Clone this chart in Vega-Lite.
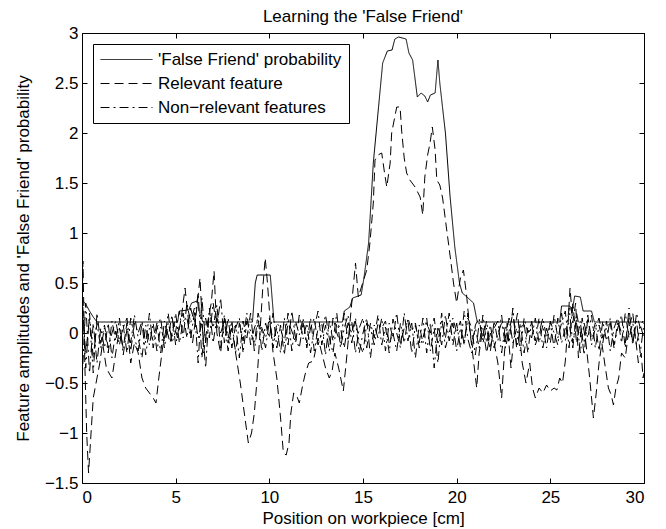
{
"$schema": "https://vega.github.io/schema/vega-lite/v6.json",
"width": 562, "height": 450,
"autosize": {"type": "none"},
"padding": {"left": 82, "top": 33, "right": 22, "bottom": 46},
"background": "white",
"title": {"text": "Learning the 'False Friend'", "fontSize": 17, "fontWeight": "normal", "font": "Liberation Sans", "offset": -2, "anchor": "middle", "color": "black"},
"config": {
  "font": "Liberation Sans",
  "view": {"stroke": "black", "strokeWidth": 1},
  "axis": {"grid": false, "domain": false, "tickColor": "black", "tickSize": -5, "labelColor": "black", "labelFontSize": 17, "labelFont": "Liberation Sans", "titleFont": "Liberation Sans", "titleFontSize": 17, "titleFontWeight": "normal", "titleColor": "black"}
},
"datasets": {
"ff": [
{"x":0,"y":0.33},{"x":0.2,"y":0.29},{"x":0.4,"y":0.22},{"x":0.6,"y":0.16},{"x":0.8,"y":0.11},{"x":5.1,"y":0.11},{"x":5.2,"y":0.22},{"x":5.7,"y":0.23},{"x":5.85,"y":0.3},{"x":6.15,"y":0.32},{"x":6.25,"y":0.22},{"x":6.45,"y":0.11},{"x":9.1,"y":0.11},{"x":9.25,"y":0.5},{"x":9.35,"y":0.58},{"x":10.05,"y":0.58},{"x":10.25,"y":0.11},{"x":13.9,"y":0.11},{"x":14.0,"y":0.22},{"x":14.3,"y":0.26},{"x":14.45,"y":0.35},{"x":14.9,"y":0.38},{"x":15.05,"y":0.55},{"x":15.3,"y":0.9},{"x":15.55,"y":1.7},{"x":15.8,"y":2.2},{"x":16.05,"y":2.7},{"x":16.3,"y":2.82},{"x":16.55,"y":2.83},{"x":16.7,"y":2.94},{"x":16.9,"y":2.96},{"x":17.3,"y":2.94},{"x":17.45,"y":2.8},{"x":17.65,"y":2.73},{"x":17.9,"y":2.36},{"x":18.1,"y":2.4},{"x":18.3,"y":2.37},{"x":18.45,"y":2.31},{"x":18.6,"y":2.38},{"x":18.85,"y":2.4},{"x":19.0,"y":2.73},{"x":19.1,"y":2.5},{"x":19.4,"y":2.0},{"x":19.65,"y":1.36},{"x":19.9,"y":0.86},{"x":20.15,"y":0.5},{"x":20.3,"y":0.4},{"x":20.55,"y":0.36},{"x":20.9,"y":0.3},{"x":21.1,"y":0.11},{"x":25.5,"y":0.11},{"x":25.6,"y":0.27},{"x":26.05,"y":0.27},{"x":26.15,"y":0.2},{"x":26.3,"y":0.37},{"x":26.6,"y":0.36},{"x":26.75,"y":0.22},{"x":27.2,"y":0.22},{"x":27.35,"y":0.11},{"x":30,"y":0.11}
],
"rel": [
{"x":0,"y":0.1},{"x":0.05,"y":0.72},{"x":0.15,"y":-0.3},{"x":0.25,"y":-1.0},{"x":0.35,"y":-1.4},{"x":0.45,"y":-1.1},{"x":0.6,"y":-0.65},{"x":0.8,"y":-0.45},{"x":0.95,"y":-0.3},{"x":1.1,"y":-0.1},{"x":1.3,"y":-0.35},{"x":1.5,"y":-0.42},{"x":1.6,"y":-0.45},{"x":1.8,"y":-0.2},{"x":2.0,"y":0.05},{"x":2.2,"y":-0.15},{"x":2.4,"y":0.1},{"x":2.6,"y":-0.3},{"x":2.8,"y":-0.1},{"x":3.0,"y":-0.2},{"x":3.2,"y":-0.45},{"x":3.4,"y":-0.55},{"x":3.6,"y":-0.6},{"x":3.8,"y":-0.65},{"x":3.95,"y":-0.7},{"x":4.1,"y":-0.45},{"x":4.3,"y":-0.15},{"x":4.5,"y":0.05},{"x":4.7,"y":-0.1},{"x":4.9,"y":0.1},{"x":5.1,"y":-0.05},{"x":5.3,"y":0.15},{"x":5.5,"y":0.45},{"x":5.7,"y":0.1},{"x":5.9,"y":-0.1},{"x":6.1,"y":0.2},{"x":6.3,"y":0.55},{"x":6.5,"y":-0.2},{"x":6.7,"y":0.1},{"x":6.9,"y":0.3},{"x":7.05,"y":0.62},{"x":7.2,"y":0.0},{"x":7.4,"y":-0.2},{"x":7.6,"y":0.15},{"x":7.8,"y":-0.1},{"x":8.0,"y":0.05},{"x":8.2,"y":-0.2},{"x":8.45,"y":-0.5},{"x":8.7,"y":-0.85},{"x":8.88,"y":-1.1},{"x":9.05,"y":-1.0},{"x":9.2,"y":-0.8},{"x":9.35,"y":-0.45},{"x":9.5,"y":0.0},{"x":9.65,"y":0.45},{"x":9.78,"y":0.75},{"x":9.9,"y":0.5},{"x":10.05,"y":0.1},{"x":10.2,"y":-0.2},{"x":10.4,"y":-0.45},{"x":10.6,"y":-0.85},{"x":10.75,"y":-1.2},{"x":10.9,"y":-1.22},{"x":11.05,"y":-1.1},{"x":11.15,"y":-0.8},{"x":11.3,"y":-0.6},{"x":11.45,"y":-0.62},{"x":11.6,"y":-0.7},{"x":11.75,"y":-0.55},{"x":11.9,"y":-0.42},{"x":12.1,"y":-0.3},{"x":12.35,"y":-0.28},{"x":12.6,"y":-0.05},{"x":12.8,"y":-0.2},{"x":13.0,"y":-0.35},{"x":13.2,"y":-0.45},{"x":13.35,"y":-0.38},{"x":13.5,"y":-0.2},{"x":13.7,"y":-0.35},{"x":13.95,"y":-0.58},{"x":14.1,"y":-0.3},{"x":14.3,"y":0.1},{"x":14.45,"y":0.4},{"x":14.6,"y":0.7},{"x":14.75,"y":0.36},{"x":14.9,"y":0.45},{"x":15.2,"y":0.63},{"x":15.37,"y":0.9},{"x":15.55,"y":1.3},{"x":15.64,"y":1.73},{"x":15.8,"y":1.78},{"x":16.0,"y":1.8},{"x":16.15,"y":1.6},{"x":16.27,"y":1.46},{"x":16.45,"y":1.7},{"x":16.53,"y":2.0},{"x":16.8,"y":2.26},{"x":16.98,"y":2.26},{"x":17.06,"y":2.03},{"x":17.2,"y":1.75},{"x":17.33,"y":1.6},{"x":17.5,"y":1.53},{"x":17.78,"y":1.46},{"x":18.05,"y":1.36},{"x":18.19,"y":1.18},{"x":18.3,"y":1.56},{"x":18.45,"y":1.78},{"x":18.58,"y":1.9},{"x":18.7,"y":2.06},{"x":18.85,"y":1.83},{"x":18.94,"y":1.53},{"x":19.1,"y":1.48},{"x":19.25,"y":1.35},{"x":19.38,"y":1.16},{"x":19.56,"y":0.9},{"x":19.7,"y":0.7},{"x":19.83,"y":0.5},{"x":20.0,"y":0.3},{"x":20.1,"y":0.43},{"x":20.2,"y":0.55},{"x":20.36,"y":0.63},{"x":20.54,"y":0.36},{"x":20.7,"y":0.03},{"x":20.85,"y":-0.2},{"x":21.07,"y":-0.55},{"x":21.2,"y":-0.2},{"x":21.4,"y":0.05},{"x":21.6,"y":-0.2},{"x":21.8,"y":0.0},{"x":22.0,"y":-0.1},{"x":22.2,"y":-0.3},{"x":22.4,"y":-0.65},{"x":22.55,"y":-0.2},{"x":22.7,"y":0.1},{"x":22.9,"y":-0.35},{"x":23.1,"y":0.05},{"x":23.25,"y":0.2},{"x":23.4,"y":-0.1},{"x":23.5,"y":-0.3},{"x":23.7,"y":-0.5},{"x":23.9,"y":-0.3},{"x":24.05,"y":-0.55},{"x":24.2,"y":-0.65},{"x":24.4,"y":-0.55},{"x":24.6,"y":-0.6},{"x":24.8,"y":-0.52},{"x":25.0,"y":-0.58},{"x":25.2,"y":-0.55},{"x":25.35,"y":-0.57},{"x":25.5,"y":-0.45},{"x":25.65,"y":-0.5},{"x":25.8,"y":-0.28},{"x":25.95,"y":0.1},{"x":26.05,"y":0.45},{"x":26.2,"y":0.1},{"x":26.35,"y":0.3},{"x":26.5,"y":-0.25},{"x":26.7,"y":0.15},{"x":26.9,"y":-0.1},{"x":27.1,"y":-0.45},{"x":27.3,"y":-0.85},{"x":27.45,"y":-0.6},{"x":27.6,"y":-0.3},{"x":27.75,"y":-0.1},{"x":27.9,"y":-0.3},{"x":28.1,"y":-0.55},{"x":28.25,"y":-0.62},{"x":28.37,"y":-0.72},{"x":28.5,"y":-0.55},{"x":28.65,"y":-0.45},{"x":28.8,"y":-0.2},{"x":29.0,"y":-0.25},{"x":29.2,"y":0.05},{"x":29.4,"y":0.2},{"x":29.55,"y":-0.05},{"x":29.7,"y":-0.3},{"x":29.85,"y":-0.2},{"x":29.95,"y":-0.45},{"x":30.0,"y":-0.4}
],
"nr": [
{"x":0,"a":0.45,"b":-0.5,"c":0.3},{"x":0.2,"a":-0.35,"b":0.3,"c":-0.2},{"x":0.4,"a":0.2,"b":-0.4,"c":0.15},{"x":0.6,"a":-0.25,"b":0.1,"c":-0.4},{"x":0.8,"a":0.1,"b":-0.3,"c":0.2},{"x":1,"a":-0.15,"b":0.05,"c":-0.1},{"x":1.2,"a":0.05,"b":-0.15,"c":0.08},{"x":1.4,"a":-0.2,"b":0.1,"c":-0.15},{"x":1.6,"a":0.12,"b":-0.25,"c":0},{"x":1.8,"a":-0.08,"b":0.02,"c":0.12},
{"x":2,"a":0.15,"b":-0.12,"c":-0.08},{"x":2.2,"a":-0.22,"b":0.08,"c":0.05},{"x":2.4,"a":0.04,"b":-0.2,"c":0.15},{"x":2.6,"a":-0.1,"b":0.15,"c":-0.18},{"x":2.8,"a":0.18,"b":-0.05,"c":0.1},{"x":3,"a":-0.05,"b":-0.18,"c":0},{"x":3.2,"a":-0.25,"b":0.1,"c":0.12},{"x":3.4,"a":0.08,"b":-0.22,"c":-0.1},{"x":3.6,"a":-0.12,"b":0.05,"c":0.2},{"x":3.8,"a":0.1,"b":-0.08,"c":-0.15},
{"x":4,"a":-0.18,"b":0.1,"c":0.05},{"x":4.2,"a":0.06,"b":-0.2,"c":0.15},{"x":4.4,"a":-0.08,"b":0.12,"c":-0.15},{"x":4.6,"a":0.2,"b":-0.05,"c":0.1},{"x":4.8,"a":-0.1,"b":0.18,"c":-0.05},{"x":5,"a":0.02,"b":-0.12,"c":0.2},{"x":5.2,"a":0.22,"b":0.08,"c":-0.1},{"x":5.4,"a":-0.05,"b":0.2,"c":0.12},{"x":5.6,"a":0.3,"b":-0.05,"c":0.15},{"x":5.8,"a":0.1,"b":0.25,"c":-0.05},
{"x":6,"a":0.25,"b":0.1,"c":0.2},{"x":6.2,"a":-0.3,"b":0.4,"c":-0.05},{"x":6.4,"a":0.35,"b":-0.25,"c":0.1},{"x":6.6,"a":-0.1,"b":0.15,"c":-0.35},{"x":6.8,"a":0.2,"b":-0.05,"c":0.25},{"x":7,"a":0.05,"b":0.3,"c":-0.1},{"x":7.2,"a":0.28,"b":0.05,"c":0.15},{"x":7.4,"a":-0.15,"b":0.35,"c":0},{"x":7.6,"a":0.18,"b":-0.1,"c":0.12},{"x":7.8,"a":-0.05,"b":0.15,"c":-0.18},
{"x":8,"a":0.12,"b":-0.15,"c":0.1},{"x":8.2,"a":-0.2,"b":0.08,"c":0.05},{"x":8.4,"a":0.1,"b":-0.25,"c":0.15},{"x":8.6,"a":-0.08,"b":0.12,"c":-0.2},{"x":8.8,"a":0.2,"b":-0.05,"c":0.12},{"x":9,"a":-0.12,"b":0.2,"c":0.02},{"x":9.2,"a":0.05,"b":-0.18,"c":-0.12},{"x":9.4,"a":0.15,"b":0.1,"c":0.2},{"x":9.6,"a":-0.18,"b":0.02,"c":0.05},{"x":9.8,"a":0.1,"b":-0.15,"c":-0.05},
{"x":10,"a":-0.05,"b":0.12,"c":0.15},{"x":10.2,"a":0.2,"b":-0.08,"c":-0.15},{"x":10.4,"a":-0.15,"b":0.05,"c":0.1},{"x":10.6,"a":0.08,"b":-0.2,"c":0.05},{"x":10.8,"a":-0.22,"b":0.15,"c":-0.1},{"x":11,"a":0.12,"b":-0.12,"c":0.2},{"x":11.2,"a":0.02,"b":0.22,"c":-0.18},{"x":11.4,"a":-0.1,"b":-0.05,"c":0.12},{"x":11.6,"a":0.18,"b":-0.15,"c":-0.02},{"x":11.8,"a":-0.06,"b":0.1,"c":0.15},
{"x":12,"a":0.1,"b":-0.1,"c":-0.15},{"x":12.2,"a":-0.2,"b":0.15,"c":0.05},{"x":12.4,"a":0.05,"b":-0.18,"c":0.15},{"x":12.6,"a":0.22,"b":0.05,"c":-0.12},{"x":12.8,"a":-0.12,"b":0.1,"c":0},{"x":13,"a":0.08,"b":-0.22,"c":0.18},{"x":13.2,"a":-0.18,"b":0.12,"c":-0.05},{"x":13.4,"a":0.15,"b":-0.08,"c":-0.2},{"x":13.6,"a":0,"b":0.2,"c":0.1},{"x":13.8,"a":-0.1,"b":-0.15,"c":0.05},
{"x":14,"a":0.2,"b":0.05,"c":-0.15},{"x":14.2,"a":-0.08,"b":0.18,"c":0.1},{"x":14.4,"a":0.12,"b":-0.1,"c":0},{"x":14.6,"a":-0.2,"b":0.12,"c":0.15},{"x":14.8,"a":0.05,"b":-0.2,"c":-0.1},{"x":15,"a":0.15,"b":0,"c":-0.2},{"x":15.2,"a":-0.15,"b":0.15,"c":0.1},{"x":15.4,"a":0.1,"b":-0.25,"c":0.05},{"x":15.6,"a":-0.05,"b":0.08,"c":-0.12},{"x":15.8,"a":0.18,"b":-0.05,"c":0.1},
{"x":16,"a":-0.12,"b":0.15,"c":0.05},{"x":16.2,"a":0.06,"b":-0.18,"c":0.12},{"x":16.4,"a":-0.2,"b":0.1,"c":-0.1},{"x":16.6,"a":0.14,"b":-0.05,"c":0},{"x":16.8,"a":0,"b":0.2,"c":-0.18},{"x":17,"a":-0.15,"b":-0.12,"c":0.1},{"x":17.2,"a":0.2,"b":0.05,"c":-0.1},{"x":17.4,"a":-0.08,"b":0.12,"c":0.15},{"x":17.6,"a":0.1,"b":-0.2,"c":0.02},{"x":17.8,"a":-0.25,"b":0.08,"c":0.1},
{"x":18,"a":0.08,"b":-0.1,"c":-0.15},{"x":18.2,"a":-0.1,"b":0.15,"c":-0.05},{"x":18.4,"a":0.15,"b":-0.2,"c":0.1},{"x":18.6,"a":-0.18,"b":0.1,"c":0},{"x":18.8,"a":0.05,"b":-0.35,"c":0.15},{"x":19,"a":-0.3,"b":0.05,"c":-0.12},{"x":19.2,"a":0.12,"b":-0.12,"c":0.2},{"x":19.4,"a":-0.05,"b":0.18,"c":-0.15},{"x":19.6,"a":0.2,"b":-0.08,"c":0},{"x":19.8,"a":-0.12,"b":0.1,"c":0.15},
{"x":20,"a":0.1,"b":-0.18,"c":0},{"x":20.2,"a":-0.15,"b":0.05,"c":0.12},{"x":20.4,"a":0.22,"b":-0.1,"c":-0.12},{"x":20.6,"a":-0.06,"b":0.15,"c":0.2},{"x":20.8,"a":-0.2,"b":0.05,"c":-0.1},{"x":21,"a":0.08,"b":-0.22,"c":0.05},{"x":21.2,"a":0.15,"b":0.1,"c":-0.15},{"x":21.4,"a":-0.1,"b":-0.05,"c":0.18},{"x":21.6,"a":0.05,"b":0.12,"c":-0.1},{"x":21.8,"a":-0.18,"b":-0.15,"c":0.08},
{"x":22,"a":0.12,"b":0.05,"c":-0.15},{"x":22.2,"a":-0.08,"b":0.12,"c":0},{"x":22.4,"a":0.18,"b":-0.2,"c":0.1},{"x":22.6,"a":-0.15,"b":0.08,"c":-0.05},{"x":22.8,"a":0.02,"b":-0.1,"c":0.15},{"x":23,"a":0.2,"b":0.25,"c":-0.1},{"x":23.2,"a":-0.12,"b":-0.15,"c":0.05},{"x":23.4,"a":0.1,"b":0.05,"c":-0.18},{"x":23.6,"a":-0.2,"b":0.1,"c":0.15},{"x":23.8,"a":0.06,"b":-0.2,"c":0},
{"x":24,"a":-0.05,"b":0.12,"c":0.1},{"x":24.2,"a":0.15,"b":-0.08,"c":-0.12},{"x":24.4,"a":-0.1,"b":0.15,"c":0},{"x":24.6,"a":0.08,"b":-0.15,"c":0.15},{"x":24.8,"a":-0.15,"b":0.05,"c":-0.05},{"x":25,"a":0.12,"b":-0.1,"c":0.1},{"x":25.2,"a":0,"b":0.18,"c":-0.15},{"x":25.4,"a":-0.12,"b":-0.05,"c":0.15},{"x":25.6,"a":0.2,"b":0.1,"c":-0.1},{"x":25.8,"a":-0.08,"b":0.22,"c":0.05},
{"x":26,"a":0.25,"b":-0.15,"c":0.1},{"x":26.2,"a":-0.1,"b":0.3,"c":-0.15},{"x":26.4,"a":0.15,"b":-0.1,"c":0.2},{"x":26.6,"a":-0.2,"b":0.12,"c":0},{"x":26.8,"a":0.1,"b":-0.22,"c":-0.1},{"x":27,"a":-0.05,"b":0.15,"c":0.18},{"x":27.2,"a":0.18,"b":-0.05,"c":-0.12},{"x":27.4,"a":-0.15,"b":0.1,"c":0.05},{"x":27.6,"a":0.08,"b":-0.18,"c":0.15},{"x":27.8,"a":-0.1,"b":0.12,"c":-0.05},
{"x":28,"a":0.12,"b":-0.08,"c":0.05},{"x":28.2,"a":-0.18,"b":0.15,"c":0.1},{"x":28.4,"a":0.05,"b":-0.12,"c":-0.15},{"x":28.6,"a":0.15,"b":0.05,"c":0.12},{"x":28.8,"a":-0.1,"b":0.18,"c":0},{"x":29,"a":0.2,"b":-0.15,"c":-0.1},{"x":29.2,"a":-0.05,"b":0.25,"c":0.15},{"x":29.4,"a":0.1,"b":-0.1,"c":-0.12},{"x":29.6,"a":-0.12,"b":0.12,"c":0.2},{"x":29.8,"a":0.08,"b":-0.2,"c":0.05},{"x":30,"a":-0.05,"b":0.1,"c":0.15}
]
},
"resolve": {"axis": {"x": "independent", "y": "independent"}},
"layer": [
  {
    "layer": [
      {
        "data": {"name": "nr"},
        "transform": [{"fold": ["a", "b", "c"], "as": ["series", "y"]}],
        "mark": {"type": "line", "strokeWidth": 1, "color": "black", "clip": true},
        "encoding": {
          "x": {"field": "x", "type": "quantitative"},
          "y": {"field": "y", "type": "quantitative"},
          "detail": {"field": "series"},
          "strokeDash": {"datum": "Non−relevant features", "type": "nominal"}
        }
      },
      {
        "data": {"name": "rel"},
        "mark": {"type": "line", "strokeWidth": 1, "color": "black", "clip": true},
        "encoding": {
          "x": {"field": "x", "type": "quantitative"},
          "y": {"field": "y", "type": "quantitative"},
          "strokeDash": {"datum": "Relevant feature", "type": "nominal"}
        }
      },
      {
        "data": {"name": "ff"},
        "mark": {"type": "line", "strokeWidth": 1, "color": "black", "clip": true},
        "encoding": {
          "x": {"field": "x", "type": "quantitative", "scale": {"domain": [0, 30], "nice": false},
                "axis": {"orient": "bottom", "values": [0,5,10,15,20,25,30], "format": "d", "title": "Position on workpiece [cm]", "labelPadding": 11, "titlePadding": 5}},
          "y": {"field": "y", "type": "quantitative", "scale": {"domain": [-1.5, 3], "nice": false},
                "axis": {"orient": "left", "values": [-1.5,-1,-0.5,0,0.5,1,1.5,2,2.5,3], "format": "~g", "title": "Feature amplitudes and 'False Friend' probability", "labelPadding": 9, "titlePadding": 12}},
          "strokeDash": {"datum": "'False Friend' probability", "type": "nominal",
            "scale": {"domain": ["'False Friend' probability", "Relevant feature", "Non−relevant features"], "range": [[1, 0], [9, 5], [9, 4, 2, 4]]},
            "legend": {"orient": "none", "legendX": 11, "legendY": 11, "title": null, "symbolType": "stroke", "symbolSize": 2700, "symbolStrokeColor": "black", "symbolStrokeWidth": 1, "labelFontSize": 17, "labelFont": "Liberation Sans", "labelColor": "black", "labelLimit": 400, "strokeColor": "black", "fillColor": "white", "padding": 7, "rowPadding": 6, "clipHeight": 17, "labelOffset": 5}}
        }
      }
    ]
  },
  {
    "data": {"name": "ff"},
    "mark": {"type": "point", "opacity": 0},
    "encoding": {
      "x": {"field": "x", "type": "quantitative", "axis": {"orient": "top", "values": [0,5,10,15,20,25,30], "labels": false, "title": null}},
      "y": {"field": "y", "type": "quantitative", "axis": {"orient": "right", "values": [-1.5,-1,-0.5,0,0.5,1,1.5,2,2.5,3], "labels": false, "title": null}}
    }
  }
]
}
